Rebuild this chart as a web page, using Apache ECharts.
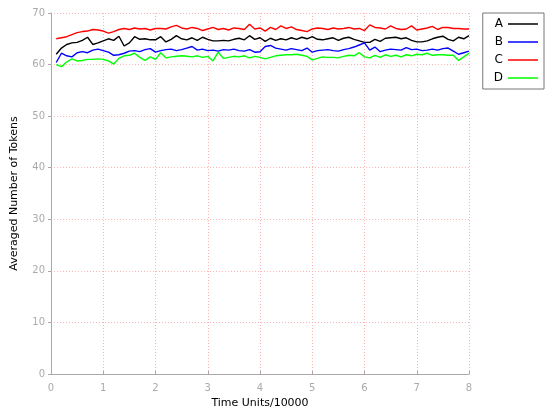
<!DOCTYPE html>
<html>
<head>
<meta charset="utf-8">
<script src="https://cdn.jsdelivr.net/npm/echarts@6/dist/echarts.min.js"></script>
<style>
html, body { margin: 0; padding: 0; background: #fff; }
#chartArea { width: 550px; height: 414px; }
</style>
</head>
<body>
<div id="chartArea"></div>
<script>
let times = [
    0.1, 0.2, 0.3, 0.4, 0.5, 0.6, 0.7, 0.8, 0.9, 1.0,
    1.1, 1.2, 1.3, 1.4, 1.5, 1.6, 1.7, 1.8, 1.9, 2.0,
    2.1, 2.2, 2.3, 2.4, 2.5, 2.6, 2.7, 2.8, 2.9, 3.0,
    3.1, 3.2, 3.3, 3.4, 3.5, 3.6, 3.7, 3.8, 3.9, 4.0,
    4.1, 4.2, 4.3, 4.4, 4.5, 4.6, 4.7, 4.8, 4.9, 5.0,
    5.1, 5.2, 5.3, 5.4, 5.5, 5.6, 5.7, 5.8, 5.9, 6.0,
    6.1, 6.2, 6.3, 6.4, 6.5, 6.6, 6.7, 6.8, 6.9, 7.0,
    7.1, 7.2, 7.3, 7.4, 7.5, 7.6, 7.7, 7.8, 7.9, 8.0
];

let seriesA = [
    62.0, 63.2, 63.9, 64.2, 64.3, 64.7, 65.3, 63.9, 64.2, 64.6,
    65.0, 64.7, 65.5, 63.6, 64.2, 65.4, 64.9, 65.0, 64.8, 64.8,
    65.4, 64.4, 64.9, 65.6, 65.0, 64.8, 65.2, 64.7, 65.3, 64.9,
    64.6, 64.6, 64.7, 64.6, 64.9, 65.1, 64.8, 65.6, 64.9, 65.2,
    64.5, 65.1, 64.7, 65.0, 64.8, 65.2, 64.9, 65.3, 65.0, 65.4,
    64.9, 64.8, 65.0, 65.2, 64.7, 65.1, 65.3, 64.9, 64.6, 64.3,
    64.3, 64.9, 64.5, 65.1, 65.2, 65.3, 65.0, 65.2, 64.7, 64.4,
    64.4, 64.6, 65.0, 65.3, 65.5, 64.9, 64.6, 65.3, 65.0, 65.6
];

let seriesB = [
    60.4, 62.2, 61.7, 61.5, 62.3, 62.5, 62.3, 62.8, 63.0, 62.7,
    62.4, 61.8, 61.9, 62.2, 62.6, 62.7, 62.5, 62.9, 63.1, 62.4,
    62.7, 62.9, 63.0, 62.7, 62.9, 63.2, 63.5, 62.8, 63.0, 62.7,
    62.8, 62.6, 62.9, 62.8, 63.0, 62.7, 62.6, 62.9, 62.4, 62.5,
    63.5, 63.7, 63.2, 63.0, 62.8, 63.1, 62.9, 62.7, 63.2, 62.4,
    62.7, 62.8, 62.9, 62.7, 62.6, 62.9, 63.1, 63.4, 63.8, 64.2,
    62.8, 63.4, 62.5, 62.8, 63.0, 62.9, 62.8, 63.3, 62.9, 63.0,
    62.7, 62.8, 63.0, 62.8, 63.1, 63.2, 62.6, 62.0, 62.3, 62.6
];

let seriesC = [
    65.0, 65.2, 65.4, 65.8, 66.2, 66.4, 66.5, 66.8, 66.7, 66.5,
    66.1, 66.4, 66.8, 67.0, 66.8, 67.1, 66.9, 67.0, 66.7, 67.0,
    67.0, 66.9, 67.3, 67.6, 67.1, 66.9, 67.2, 67.0, 66.6, 66.9,
    67.2, 66.8, 67.0, 66.7, 67.1, 67.0, 66.8, 67.8, 66.9, 67.1,
    66.5, 67.2, 66.8, 67.5, 67.0, 67.3, 66.8, 66.6, 66.4, 66.9,
    67.1, 67.0, 66.8, 67.1, 66.9, 67.0, 67.2, 66.9, 67.0, 66.6,
    67.7, 67.2, 67.1, 66.9, 67.5, 67.0, 66.8, 66.9, 67.5, 66.7,
    66.9, 67.1, 67.4, 66.8, 67.2, 67.2, 67.0, 67.0, 66.9, 66.9
];

let seriesD = [
    60.0, 59.6, 60.5, 61.1, 60.7, 60.8, 61.0, 61.0, 61.1, 61.0,
    60.7, 60.1, 61.2, 61.7, 61.8, 62.2, 61.4, 60.8, 61.5, 61.0,
    62.3, 61.3, 61.5, 61.6, 61.7, 61.6, 61.5, 61.7, 61.4, 61.6,
    60.7, 62.4, 61.2, 61.4, 61.6, 61.5, 61.7, 61.3, 61.6, 61.4,
    61.1, 61.4, 61.7, 61.8, 61.9, 61.9, 62.0, 61.8, 61.6, 60.9,
    61.2, 61.5, 61.4, 61.4, 61.3, 61.6, 61.8, 61.7, 62.3, 61.5,
    61.3, 61.8, 61.4, 61.9, 61.6, 61.8, 61.5, 61.9, 61.7, 62.0,
    61.9, 62.2, 61.8, 61.9, 61.9, 61.8, 61.8, 60.8, 61.5, 62.2
];

let seriesNames = ['A', 'B', 'C', 'D'];
let seriesColors = ['#000000', '#0000ff', '#ff0000', '#00ff00'];

let myChart = echarts.init(document.getElementById('chartArea'));
let fontFamily = 'DejaVu Sans';
let gridPink = '#ffb4b4';

function pairUp(values) {
    let out = [];
    for (let i = 0; i < values.length; i++) {
        out.push([times[i], values[i]]);
    }
    return out;
}

let allValues = [seriesA, seriesB, seriesC, seriesD];
let series = [];
for (let i = 0; i < seriesNames.length; i++) {
    series.push({
        name: seriesNames[i],
        type: 'line',
        data: pairUp(allValues[i]),
        showSymbol: false,
        symbol: 'none',
        lineStyle: {color: seriesColors[i], width: 1.4},
        itemStyle: {color: seriesColors[i]}
    });
}

let option = {
    animation: false,
    grid: {left: 51, right: 81, top: 13, bottom: 34},
    legend: {
        data: seriesNames,
        orient: 'vertical',
        right: 6,
        top: 13,
        align: 'right',
        icon: 'rect',
        itemWidth: 30,
        itemHeight: 1.5,
        itemGap: 6,
        padding: [5, 6, 5, 11],
        borderColor: '#777',
        borderWidth: 1,
        borderRadius: 0,
        textStyle: {fontFamily: fontFamily, fontSize: 12, color: '#000'}
    },
    xAxis: {
        type: 'value',
        min: 0,
        max: 8,
        interval: 1,
        name: 'Time Units/10000',
        nameLocation: 'middle',
        nameGap: 24,
        nameTextStyle: {fontFamily: fontFamily, fontSize: 11, color: '#000'},
        axisLine: {lineStyle: {color: '#aaa'}},
        axisTick: {inside: true, length: 3, lineStyle: {color: '#aaa'}},
        axisLabel: {fontFamily: fontFamily, fontSize: 10, color: '#aaa', margin: 9},
        splitLine: {show: true, lineStyle: {color: gridPink, type: [1, 2]}}
    },
    yAxis: {
        type: 'value',
        min: 0,
        max: 70,
        interval: 10,
        name: 'Averaged Number of Tokens',
        nameLocation: 'middle',
        nameGap: 31,
        nameTextStyle: {fontFamily: fontFamily, fontSize: 11, color: '#000'},
        axisLine: {show: true, lineStyle: {color: '#aaa'}},
        axisTick: {show: true, length: 3, lineStyle: {color: '#aaa'}},
        axisLabel: {fontFamily: fontFamily, fontSize: 10, color: '#aaa', margin: 6},
        splitLine: {show: true, lineStyle: {color: gridPink, type: [1, 2]}}
    },
    series: series
};

myChart.setOption(option, true);
</script>
</body>
</html>
